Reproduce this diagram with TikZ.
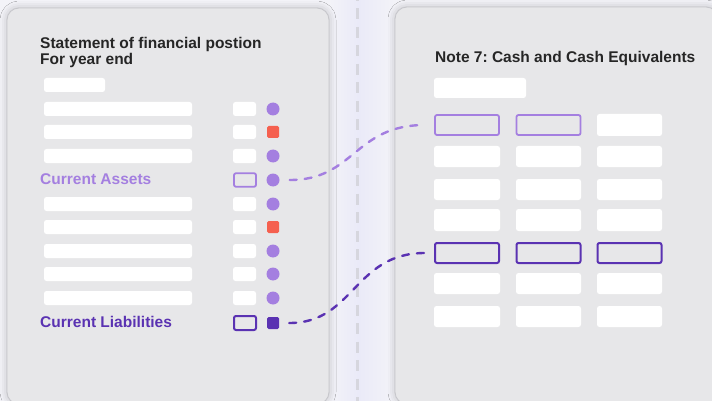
\documentclass[tikz,border=0pt]{standalone}
\usepackage{fontspec}
\setmainfont{Liberation Sans}
\usetikzlibrary{shadows.blur}
\frenchspacing
\definecolor{bg}{HTML}{F3F3F8}
\definecolor{lav}{HTML}{EAEAF8}
\definecolor{panelfill}{HTML}{E7E7E9}
\definecolor{panelline}{HTML}{C6C6CB}
\definecolor{ink}{HTML}{262626}
\definecolor{lp}{HTML}{A47FE0}
\definecolor{dp}{HTML}{5A32B2}
\definecolor{redsq}{HTML}{F5604F}
\definecolor{midline}{HTML}{D6D6DE}
\begin{document}
\begin{tikzpicture}[x=1pt,y=-1pt,
  panel/.style={draw=panelline, line width=0.8pt, fill=panelfill, rounded corners=12pt,
    blur shadow={shadow xshift=0pt, shadow yshift=0pt, shadow blur radius=7pt, shadow opacity=22}},
  bar/.style={fill=white, rounded corners=2.5pt},
  lpbox/.style={draw=lp, line width=1.8pt, rounded corners=2pt, inner sep=0pt},
  dpbox/.style={draw=dp, line width=2pt, rounded corners=2pt, inner sep=0pt},
  conn/.style={line width=2.4pt, line cap=round, dash pattern=on 7pt off 8pt},
  ttl/.style={font=\fontsize{15.5}{15.5}\selectfont\bfseries, text=ink, inner sep=0pt, anchor=base west},
  lbl/.style={font=\fontsize{15.5}{15.5}\selectfont\bfseries, inner sep=0pt, anchor=base west}
]
\useasboundingbox (0,0) rectangle (712,401);
\fill[bg] (0,0) rectangle (712,401);
\shade[left color=bg, right color=lav] (329,0) rectangle (358,401);
\shade[left color=lav, right color=bg] (358,0) rectangle (395,401);
\draw[midline, line width=2.6pt, dash pattern=on 11pt off 7.5pt, dash phase=5pt] (357.5,-5) -- (357.5,410);

% panels
\draw[panel] (7,8) rectangle (329,404);
\draw[panel] (395,7) rectangle (718,404);

% left titles
\node[ttl] (t1) at (40,48.7) {Statement of financial postion};
\node[ttl] (t2) at (40,64.3) {For year end};

% left rows
\fill[bar] (44,78) rectangle (105,92);
\foreach \c in {109,132,156,204,227,251,274,298}{
  \fill[bar] (44,\c-7) rectangle (192,\c+7);
  \fill[bar] (233,\c-7) rectangle (256,\c+7);
}
\foreach \c in {109,156,204,251,274,298}{
  \fill[lp] (273,\c) circle (6.5pt);
}
\foreach \c in {132,227}{
  \fill[redsq, rounded corners=1.5pt] (267,\c-6) rectangle (279,\c+6);
}

% Current Assets
\node[lbl, text=lp] (ca) at (40,184.7) {Current Assets};
\node[lpbox, minimum width=22pt, minimum height=13.5pt] (caBox) at (245,180) {};
\node[circle, fill=lp, minimum size=13pt, inner sep=0pt] (dotCA) at (273,180) {};

% Current Liabilities
\node[lbl, text=dp] (cl) at (40,327.3) {Current Liabilities};
\node[dpbox, minimum width=22pt, minimum height=14pt] (clBox) at (245,323) {};
\node[fill=dp, rounded corners=1.5pt, minimum size=12pt, inner sep=0pt] (sqCL) at (273,323) {};

% right panel
\node[ttl] (t3) at (435,63) {Note 7: Cash and Cash Equivalents};
\fill[bar] (434,78) rectangle (526,98);

% row 1
\node[lpbox, minimum width=64pt, minimum height=20pt] (cellA) at (467,125) {};
\node[lpbox, minimum width=64pt, minimum height=20pt] (cellA2) at (548.5,125) {};
\fill[bar] (597,114) rectangle (662,136);
% plain rows
\foreach \t/\b in {146/167,179/200,209/231,273/294,306/327}{
  \fill[bar] (434,\t) rectangle (500,\b);
  \fill[bar] (516,\t) rectangle (581,\b);
  \fill[bar] (597,\t) rectangle (662,\b);
}
% row 5
\node[dpbox, minimum width=64pt, minimum height=20pt] (cellB) at (467,253) {};
\node[dpbox, minimum width=64pt, minimum height=20pt] (cellB2) at (548.5,253) {};
\node[dpbox, minimum width=64pt, minimum height=20pt] (cellB3) at (629.5,253) {};

% connectors
\draw[conn, lp, shorten <=10pt, shorten >=9pt] (dotCA.east) .. controls +(75,0) and +(-80,0) .. (cellA.west);
\draw[conn, dp, shorten <=10pt, shorten >=9pt] (sqCL.east) .. controls +(75,0) and +(-80,0) .. (cellB.west);
\end{tikzpicture}
\end{document}
